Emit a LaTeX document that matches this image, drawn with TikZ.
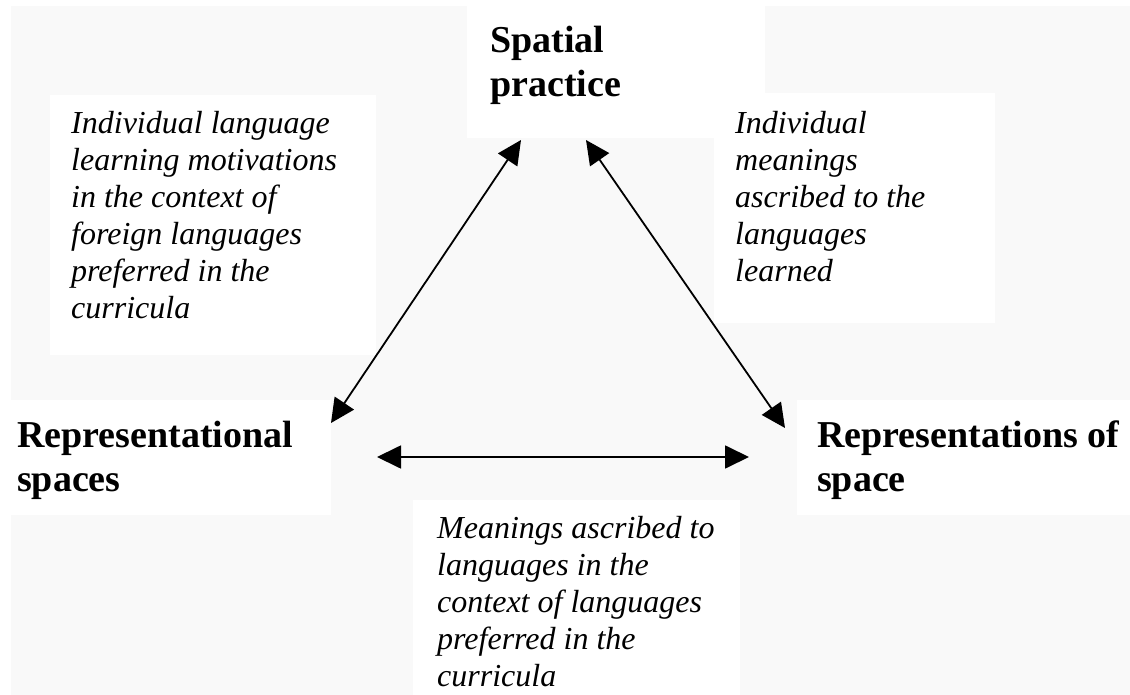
\documentclass[tikz,border=0pt]{standalone}
\usepackage{fontspec}
\setmainfont{Liberation Serif}
\usetikzlibrary{arrows.meta}
\definecolor{bgray}{RGB}{249,249,249}
\tikzset{
  corner/.style={anchor=base west,inner sep=0pt,align=left,
    font=\fontsize{38}{44}\selectfont\bfseries},
  gloss/.style={anchor=base west,inner sep=0pt,align=left,
    font=\fontsize{32}{37}\selectfont\itshape},
  link/.style={<->,line width=1.8pt,>={Triangle[length=24pt,width=23pt]}}
}
\begin{document}
\begin{tikzpicture}[x=1pt,y=-1pt]
\useasboundingbox (0,0) rectangle (1130,695);
\fill [bgray] (11,6) rectangle (1130,695);
\fill [white] (467,6) rectangle (765,138);
\fill [white] (50,95) rectangle (376,355);
\fill [white] (714,93) rectangle (995,323);
\fill [white] (11,400) rectangle (331,515);
\fill [white] (797,400) rectangle (1130,515);
\fill [white] (413,500) rectangle (740,695);
% base anchor sits on the last line
\node (sp) [corner] at (490,97) {Spatial\\practice};
\node (rs) [corner] at (17,491) {Representational\\spaces};
\node (ros) [corner] at (817,491) {Representations of\\space};
\node (ml) [gloss] at (71,318) {Individual language\\learning motivations\\in the context of\\foreign languages\\preferred in the\\curricula};
\node (mr) [gloss] at (735,281) {Individual\\meanings\\ascribed to the\\languages\\learned};
\node (mb) [gloss] at (437,686) {Meanings ascribed to\\languages in the\\context of languages\\preferred in the\\curricula};
\coordinate (sp-l) at (521,140);
\coordinate (sp-r) at (586,140);
\coordinate (rs-t) at (331,423);
\coordinate (rs-r) at (377,457);
\coordinate (ros-t) at (785,428);
\coordinate (ros-l) at (749,457);
\draw [link] (rs-t) to (sp-l);
\draw [link] (ros-t) to (sp-r);
\draw [link] (rs-r) to (ros-l);
\end{tikzpicture}
\end{document}
